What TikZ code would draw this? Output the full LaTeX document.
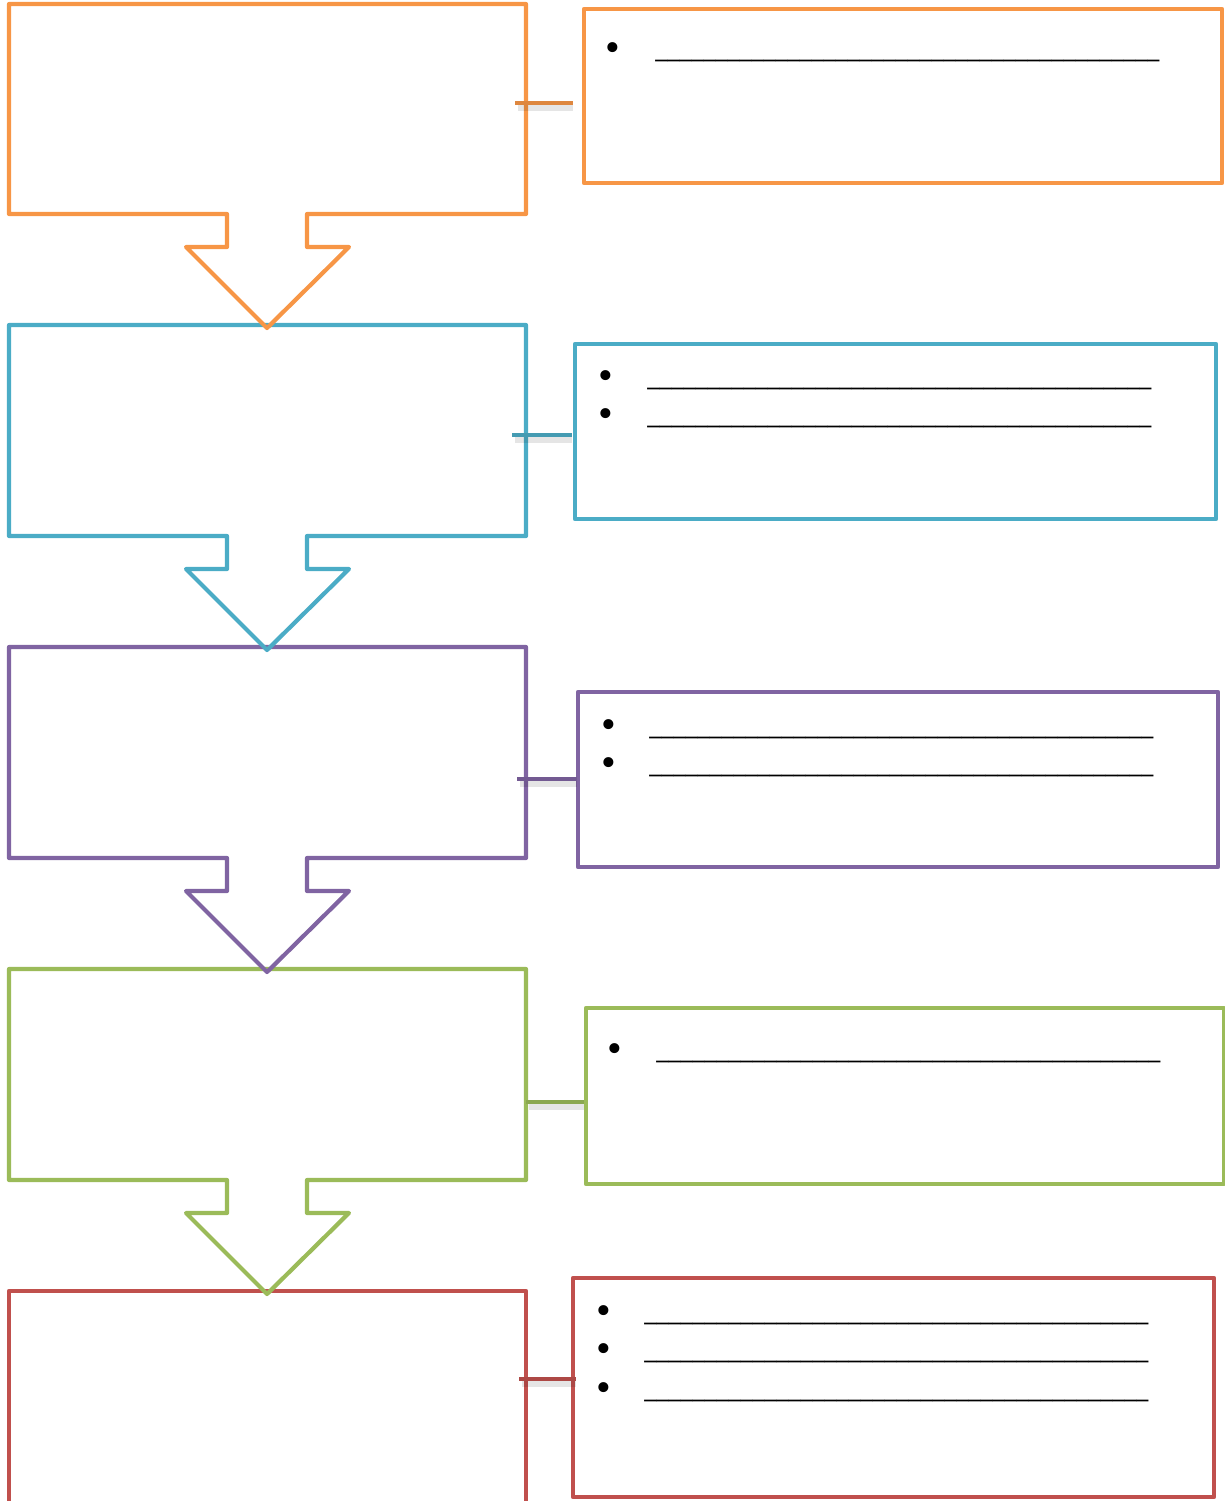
\documentclass[tikz,border=0pt]{standalone}
\usepackage{fontspec}
\setmainfont{Liberation Serif}
\definecolor{cOrange}{HTML}{F79646}
\definecolor{cBlue}{HTML}{4BACC6}
\definecolor{cPurple}{HTML}{8064A2}
\definecolor{cGreen}{HTML}{9BBB59}
\definecolor{cRed}{HTML}{C0504D}
\newcommand{\blankline}{\_\_\_\_\_\_\_\_\_\_\_\_\_\_\_\_\_\_\_\_\_\_\_\_\_\_\_\_\_\_\_\_\_\_\_\_\_\_\_\_\_\_}
\begin{document}
\begin{tikzpicture}[x=0.5pt,y=-0.5pt,
  stageshape/.style={line width=2.1pt, line join=round},
  notebox/.style={draw, line width=2.1pt, line join=round, rectangle, inner sep=0pt, outer sep=0pt, anchor=north west},
  linkline/.style={line width=2.1pt},
  linkshadow/.style={line width=3pt, black, opacity=0.1},
  bulletmark/.style={anchor=base west, inner sep=0pt, font=\fontsize{21pt}{24pt}\selectfont},
  blankmark/.style={anchor=base west, inner sep=0pt, font=\fontsize{12pt}{14pt}\selectfont\bfseries}]
\useasboundingbox (0,0) rectangle (1225,1501);
% ---------- left stage shapes (drawn bottom first so arrow tips lie on top)
\draw[stageshape, cRed] (9,1291) -- (526,1291) -- (526,1503) -- (9,1503) -- cycle;
\draw[stageshape, cGreen] (9,969) -- (526,969) -- (526,1180) -- (307,1180) -- (307,1213) -- (349,1213) -- (267,1294) -- (186,1213) -- (227,1213) -- (227,1180) -- (9,1180) -- cycle;
\draw[stageshape, cPurple] (9,647) -- (526,647) -- (526,858) -- (307,858) -- (307,891) -- (349,891) -- (267,972) -- (186,891) -- (227,891) -- (227,858) -- (9,858) -- cycle;
\draw[stageshape, cBlue] (9,325) -- (526,325) -- (526,536) -- (307,536) -- (307,569) -- (349,569) -- (267,650) -- (186,569) -- (227,569) -- (227,536) -- (9,536) -- cycle;
\draw[stageshape, cOrange] (9,4) -- (526,4) -- (526,214) -- (307,214) -- (307,247) -- (349,247) -- (267,328) -- (186,247) -- (227,247) -- (227,214) -- (9,214) -- cycle;
% ---------- right note boxes
\node[notebox, cOrange, minimum width=319pt, minimum height=87pt] (n1) at (584,9) {};
\node[notebox, cBlue, minimum width=320.5pt, minimum height=87.5pt] (n2) at (575,344) {};
\node[notebox, cPurple, minimum width=320pt, minimum height=87.5pt] (n3) at (578,692) {};
\node[notebox, cGreen, minimum width=319pt, minimum height=88pt] (n4) at (586,1008) {};
\node[notebox, cRed, minimum width=320.5pt, minimum height=109.5pt] (n5) at (573,1278) {};
% ---------- connector end points
\coordinate (s1) at (515,103); \coordinate (e1) at (573,103);
\coordinate (s2) at (512,435); \coordinate (e2) at (572,435);
\coordinate (s3) at (517,779); \coordinate (e3) at (577,779);
\coordinate (s4) at (526,1102); \coordinate (e4) at (584,1102);
\coordinate (s5) at (519,1379); \coordinate (e5) at (576,1379);
\foreach \i in {1,...,5}{
  \draw[linkshadow] ([shift={(3,5)}]s\i) -- ([shift={(0,5)}]e\i);
}
\draw[linkline, cOrange!90!black] (s1) -- (e1);
\draw[linkline, cBlue!90!black] (s2) -- (e2);
\draw[linkline, cPurple!90!black] (s3) -- (e3);
\draw[linkline, cGreen!90!black] (s4) -- (e4);
\draw[linkline, cRed!90!black] (s5) -- (e5);
% ---------- bullet lines
\node[bulletmark] (b11) at (605,61) {•};
\node[blankmark] (l11) at (655,58) {\blankline};
\node[bulletmark] (b21) at (598,389) {•};
\node[blankmark] (l21) at (647,386) {\blankline};
\node[bulletmark] (b22) at (598,427) {•};
\node[blankmark] (l22) at (647,424) {\blankline};
\node[bulletmark] (b31) at (601,738) {•};
\node[blankmark] (l31) at (649,735) {\blankline};
\node[bulletmark] (b32) at (601,776) {•};
\node[blankmark] (l32) at (649,773) {\blankline};
\node[bulletmark] (b41) at (607,1062) {•};
\node[blankmark] (l41) at (656,1059) {\blankline};
\node[bulletmark] (b51) at (596,1324) {•};
\node[blankmark] (l51) at (644,1321) {\blankline};
\node[bulletmark] (b52) at (596,1362) {•};
\node[blankmark] (l52) at (644,1359) {\blankline};
\node[bulletmark] (b53) at (596,1401) {•};
\node[blankmark] (l53) at (644,1398) {\blankline};
\end{tikzpicture}
\end{document}
